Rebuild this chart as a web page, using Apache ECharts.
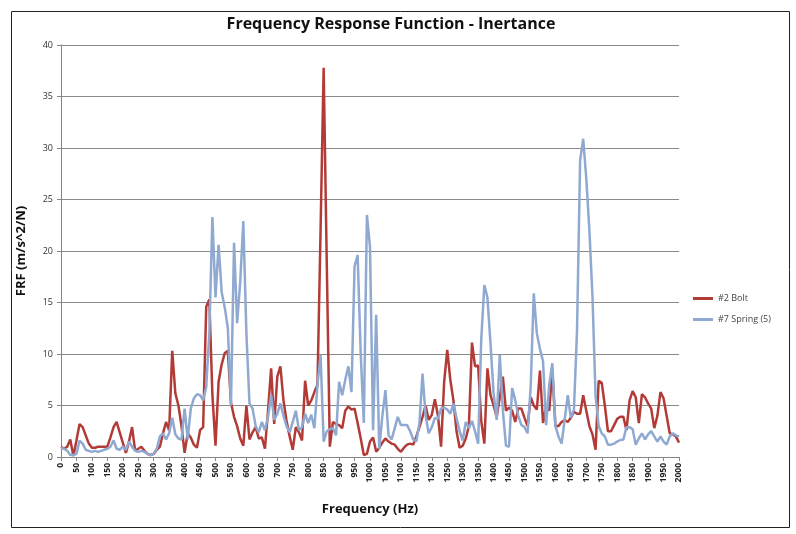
<!DOCTYPE html>
<html>
<head>
<meta charset="utf-8">
<script src="https://cdn.jsdelivr.net/npm/echarts@6/dist/echarts.min.js"></script>
<style>
html,body{margin:0;padding:0;background:#fff;}
#chart{width:796px;height:534px;}
</style>
</head>
<body>
<div id="chart"></div>
<script>
// Frequency grid (Hz), one category every 10 Hz
const frequencies = Array.from({length: 201}, (_, i) => String(i * 10));

// #2 Bolt
const boltValues = [
  1.0,0.8,1.0,1.7,0.1,1.6,3.2,2.9,2.1,1.3,
  0.9,0.9,1.0,1.0,1.0,1.0,1.9,2.9,3.4,2.4,
  1.4,0.4,1.5,2.9,0.6,0.8,1.0,0.6,0.3,0.2,
  0.3,0.7,1.0,2.3,3.4,2.6,10.3,6.2,5.0,3.0,
  0.4,2.3,1.9,1.2,0.9,2.6,2.9,14.6,15.3,6.0,
  1.1,7.3,9.0,10.1,10.3,5.3,3.9,3.0,1.8,1.1,
  5.0,1.7,2.4,2.9,1.8,1.9,0.8,4.5,8.6,3.2,
  7.8,8.8,5.5,3.5,2.0,0.7,2.9,2.4,1.6,7.4,
  5.0,5.5,6.3,7.0,22.0,37.8,19.0,1.0,3.4,3.2,
  3.1,2.8,4.5,4.9,4.6,4.7,3.3,1.8,0.2,0.3,
  1.5,1.9,0.5,0.9,1.4,1.8,1.5,1.3,1.2,0.8,
  0.5,0.9,1.2,1.3,1.2,2.0,2.9,3.9,5.0,3.6,
  4.1,5.6,4.0,1.0,7.3,10.4,7.5,5.5,2.5,0.9,
  1.1,1.8,3.0,11.1,8.8,8.9,3.5,1.3,8.6,6.0,
  5.0,3.9,5.8,7.8,4.5,4.8,4.5,3.4,4.7,4.7,
  3.8,3.0,5.8,5.0,4.6,8.4,3.3,4.9,4.5,8.5,
  3.0,3.0,3.4,3.6,3.4,3.8,4.4,4.2,4.2,6.0,
  4.5,3.0,2.2,0.7,7.4,7.2,5.0,2.5,2.5,3.1,
  3.7,3.9,3.9,2.6,5.5,6.4,5.8,3.3,6.1,5.8,
  5.2,4.7,2.8,4.0,6.3,5.7,4.0,2.3,2.2,2.0,
  1.4
];

// #7 Spring (5)
const springValues = [
  0.9,0.8,0.6,0.2,0.2,0.3,1.6,1.3,0.7,0.6,
  0.5,0.6,0.5,0.6,0.7,0.8,1.0,1.6,0.8,0.7,
  1.0,0.7,1.5,1.0,0.6,0.5,0.6,0.5,0.3,0.2,
  0.3,0.8,2.0,2.3,1.7,2.3,3.8,2.2,1.8,1.7,
  4.7,1.7,4.7,5.7,6.1,6.0,5.5,6.8,12.0,23.3,
  15.5,20.6,16.0,14.5,12.5,5.0,20.8,13.0,17.0,22.9,
  12.0,5.2,4.7,3.0,2.4,3.4,2.6,3.9,6.0,3.6,
  4.2,5.2,4.0,3.0,2.4,3.4,4.5,2.6,2.9,4.2,
  3.3,4.1,2.8,7.0,9.9,1.5,2.5,2.7,2.8,2.1,
  7.3,6.0,7.5,8.8,6.3,18.5,19.6,10.0,3.3,23.5,
  20.4,2.6,13.8,0.8,4.0,6.5,2.1,1.7,2.8,3.9,
  3.1,3.1,3.1,2.5,1.7,1.5,3.3,8.1,4.0,2.3,
  2.9,3.8,3.7,4.7,4.8,4.6,4.2,5.2,3.8,2.5,
  1.6,3.4,2.8,3.5,2.5,1.3,11.4,16.7,15.5,11.0,
  6.2,3.6,9.9,4.5,1.1,1.0,6.7,5.5,4.0,3.1,
  2.9,2.3,6.8,15.9,12.0,10.5,9.3,3.1,7.0,9.1,
  3.0,2.0,1.3,3.6,6.0,3.8,4.6,12.3,28.8,30.9,
  27.0,22.0,15.6,5.9,3.0,2.3,2.0,1.2,1.2,1.3,
  1.5,1.65,1.7,2.9,2.9,2.7,1.2,1.8,2.3,1.7,
  2.2,2.5,2.0,1.5,2.0,1.5,1.2,2.0,2.3,2.1,
  2.0
];

const seriesNames = ['#2 Bolt', '#7 Spring (5)'];
const yTicks = {min: 0, max: 40, interval: 5};

const chart = echarts.init(document.getElementById('chart'), null, {renderer: 'canvas'});
const font = 'Open Sans, Lato, DejaVu Sans, sans-serif';

chart.setOption({
  backgroundColor: '#ffffff',
  animation: false,
  title: {
    text: 'Frequency Response Function - Inertance',
    left: 386, top: 11, textAlign: 'center',
    textStyle: {fontFamily: font, fontSize: 16, fontWeight: 'bold', color: '#111'}
  },
  graphic: [{
    type: 'rect', left: 9, top: 9, silent: true,
    shape: {width: 778, height: 516},
    style: {fill: 'none', stroke: '#222', lineWidth: 1}
  }],
  legend: {
    orient: 'vertical', left: 688, top: 289,
    icon: 'rect', itemWidth: 20, itemHeight: 3, itemGap: 12,
    textStyle: {fontFamily: font, fontSize: 9, color: '#444'},
    data: seriesNames
  },
  grid: {left: 61, right: 117, top: 45, bottom: 77, containLabel: false},
  xAxis: {
    type: 'category', data: frequencies, boundaryGap: false,
    name: 'Frequency (Hz)', nameLocation: 'middle', nameGap: 46,
    nameTextStyle: {fontFamily: font, fontSize: 13, fontWeight: 'bold', color: '#111'},
    axisLine: {lineStyle: {color: '#868686', width: 1}},
    axisTick: {show: true, interval: 4, length: 4, lineStyle: {color: '#868686'}},
    axisLabel: {interval: 4, rotate: 90, fontFamily: font, fontSize: 8.5, fontWeight: 'bold', color: '#222', margin: 6},
    splitLine: {show: false}
  },
  yAxis: {
    type: 'value', min: yTicks.min, max: yTicks.max, interval: yTicks.interval,
    name: 'FRF (m/s^2/N)', nameLocation: 'middle', nameGap: 33, nameRotate: 90,
    nameTextStyle: {fontFamily: font, fontSize: 13, fontWeight: 'bold', color: '#111'},
    axisLine: {show: true, lineStyle: {color: '#868686', width: 1}},
    axisTick: {show: true, length: 4, lineStyle: {color: '#868686'}},
    axisLabel: {fontFamily: font, fontSize: 9, color: '#333', margin: 8},
    splitLine: {lineStyle: {color: '#8a8a8a', width: 1}}
  },
  series: [
    {
      name: seriesNames[0], type: 'line', data: boltValues,
      showSymbol: false, symbol: 'none',
      lineStyle: {color: '#b23b37', width: 2.5},
      itemStyle: {color: '#b23b37'}
    },
    {
      name: seriesNames[1], type: 'line', data: springValues,
      showSymbol: false, symbol: 'none',
      lineStyle: {color: '#8fa9d1', width: 2.5},
      itemStyle: {color: '#8fa9d1'}
    }
  ]
});
</script>
</body>
</html>
